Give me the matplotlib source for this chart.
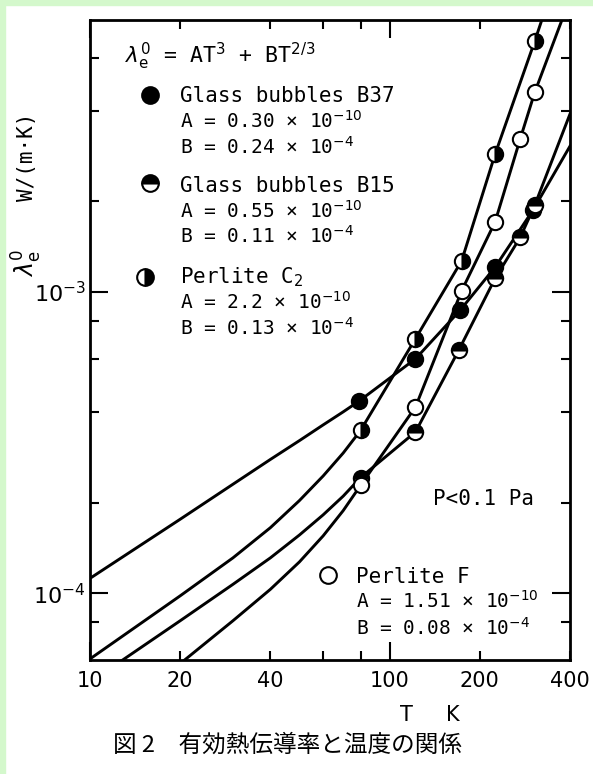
import matplotlib
matplotlib.use('Agg')
import matplotlib.pyplot as plt
from matplotlib.ticker import FixedLocator, FixedFormatter, NullFormatter
from matplotlib.patches import Rectangle

# ---- measured data points (T in K, lambda in W/(m K)) ----
b37_T = [79, 122, 172, 225, 301]
b37_lam = [4.34e-4, 6.0e-4, 8.7e-4, 1.21e-3, 1.87e-3]
b15_T = [80, 122, 170, 225, 273, 305]
b15_lam = [2.42e-4, 3.43e-4, 6.4e-4, 1.11e-3, 1.52e-3, 1.94e-3]
c2_T = [80, 122, 174, 225, 305]
c2_lam = [3.47e-4, 7.0e-4, 1.27e-3, 2.87e-3, 6.8e-3]
pf_T = [80, 122, 174, 225, 273, 305]
pf_lam = [2.28e-4, 4.15e-4, 1.01e-3, 1.71e-3, 3.23e-3, 4.6e-3]

# ---- drawn curves ----
b37_curve_T = [10, 20, 30, 40, 50, 60, 70, 79, 122, 172, 225, 301, 400]
b37_curve_lam = [1.12e-4, 1.76e-4, 2.30e-4, 2.78e-4, 3.21e-4, 3.62e-4, 4.0e-4,
                 4.34e-4, 6.0e-4, 8.7e-4, 1.21e-3, 1.87e-3, 3.05e-3]
b15_curve_T = [10, 20, 30, 40, 50, 60, 70, 80, 122, 170, 225, 273, 305, 400]
b15_curve_lam = [5.06e-5, 8.1e-5, 1.07e-4, 1.31e-4, 1.56e-4, 1.82e-4, 2.1e-4,
                 2.42e-4, 3.43e-4, 6.4e-4, 1.11e-3, 1.52e-3, 1.94e-3, 3.9e-3]
c2_curve_T = [10, 20, 30, 40, 50, 60, 70, 80, 122, 174, 225, 305, 330]
c2_curve_lam = [6.05e-5, 9.8e-5, 1.31e-4, 1.65e-4, 2.03e-4, 2.45e-4, 2.92e-4,
                3.47e-4, 7.0e-4, 1.27e-3, 2.87e-3, 6.8e-3, 8.6e-3]
pf_curve_T = [19, 30, 40, 50, 60, 70, 80, 122, 174, 225, 273, 305, 380]
pf_curve_lam = [5.6e-5, 8.1e-5, 1.03e-4, 1.27e-4, 1.55e-4, 1.88e-4, 2.28e-4,
                4.15e-4, 1.01e-3, 1.71e-3, 3.23e-3, 4.6e-3, 8.23e-3]

x_major = [10, 100]
x_major_labels = ['10', '100']
x_minor = [20, 40, 60, 80, 200, 400]
x_minor_labels = ['20', '40', '', '', '200', '400']
y_major = [1e-4, 1e-3]
y_major_labels = [r'$10^{-4}$', r'$10^{-3}$']
y_minor = [8e-5, 2e-4, 4e-4, 6e-4, 8e-4, 2e-3, 4e-3, 6e-3]

MONO = 'DejaVu Sans Mono'

fig = plt.figure(figsize=(5.93, 7.74), dpi=100)
fig.patch.set_facecolor('white')
green = '#D4F8CC'
fig.add_artist(Rectangle((0, 1 - 5 / 774), 1, 5 / 774, transform=fig.transFigure,
                         color=green, zorder=0))
fig.add_artist(Rectangle((0, 0), 5 / 593, 1, transform=fig.transFigure,
                         color=green, zorder=0))

ax = fig.add_axes([90 / 593, 114 / 774, 480 / 593, 640 / 774])
ax.set_xscale('log')
ax.set_yscale('log')
ax.set_xlim(10, 400)
ax.set_ylim(6e-5, 8e-3)

lw = 2.1
for cT, cl in [(b37_curve_T, b37_curve_lam), (b15_curve_T, b15_curve_lam),
               (c2_curve_T, c2_curve_lam), (pf_curve_T, pf_curve_lam)]:
    ax.plot(cT, cl, color='black', lw=lw, zorder=2)

ms = 11
mew = 1.5
ax.plot(b37_T, b37_lam, ls='none', marker='o', ms=ms, mfc='black', mec='black',
        mew=mew, zorder=3)
ax.plot(b15_T, b15_lam, ls='none', marker='o', ms=ms, mfc='black', mec='black',
        mew=mew, fillstyle='top', markerfacecoloralt='white', zorder=3)
ax.plot(c2_T, c2_lam, ls='none', marker='o', ms=ms, mfc='black', mec='black',
        mew=mew, fillstyle='right', markerfacecoloralt='white', zorder=3)
ax.plot(pf_T, pf_lam, ls='none', marker='o', ms=ms, mfc='white', mec='black',
        mew=mew, zorder=3)

# ticks
ax.xaxis.set_major_locator(FixedLocator(x_major))
ax.xaxis.set_major_formatter(FixedFormatter(x_major_labels))
ax.xaxis.set_minor_locator(FixedLocator(x_minor))
ax.xaxis.set_minor_formatter(FixedFormatter(x_minor_labels))
ax.yaxis.set_major_locator(FixedLocator(y_major))
ax.yaxis.set_major_formatter(FixedFormatter(y_major_labels))
ax.yaxis.set_minor_locator(FixedLocator(y_minor))
ax.yaxis.set_minor_formatter(NullFormatter())
ax.tick_params(which='both', direction='in', top=True, right=True, width=1.5)
ax.tick_params(which='major', length=13)
ax.tick_params(which='minor', length=6.5)
ax.tick_params(axis='x', which='both', labelsize=15, pad=8)
ax.tick_params(axis='y', which='both', labelsize=16, pad=3)
for s in ax.spines.values():
    s.set_linewidth(2.0)

# legend-like annotations
def tx(x, y, s, size=15):
    ax.text(x, y, s, transform=ax.transAxes, fontsize=size, family=MONO,
            va='baseline', ha='left')

def mk(x, y, **kw):
    ax.plot([x], [y], transform=ax.transAxes, marker='o', ms=12, mec='black',
            mew=mew, ls='none', clip_on=False, **kw)

tx(0.0729, 0.9323, r'$\lambda_{\mathrm{e}}^{0}$ = AT$^{3}$ + BT$^{2/3}$', size=15.5)

mk(0.125, 0.8828, mfc='black')
tx(0.1875, 0.8723, 'Glass bubbles B37')
tx(0.1875, 0.8308, r'A = 0.30 × 10$^{-10}$', size=14)
tx(0.1875, 0.7917, r'B = 0.24 × 10$^{-4}$', size=14)

mk(0.125, 0.7448, mfc='black', fillstyle='top', markerfacecoloralt='white')
tx(0.1875, 0.7317, 'Glass bubbles B15')
tx(0.1875, 0.6902, r'A = 0.55 × 10$^{-10}$', size=14)
tx(0.1875, 0.6511, r'B = 0.11 × 10$^{-4}$', size=14)

mk(0.1146, 0.5989, mfc='black', fillstyle='right', markerfacecoloralt='white')
tx(0.1875, 0.5886, r'Perlite C$_{2}$')
tx(0.1875, 0.5495, r'A = 2.2 × 10$^{-10}$', size=14)
tx(0.1875, 0.5078, r'B = 0.13 × 10$^{-4}$', size=14)

tx(0.7146, 0.2422, 'P<0.1 Pa')

mk(0.4958, 0.1328, mfc='white')
tx(0.5542, 0.1198, 'Perlite F')
tx(0.5542, 0.0808, r'A = 1.51 × 10$^{-10}$', size=14)
tx(0.5542, 0.0391, r'B = 0.08 × 10$^{-4}$', size=14)

# axis labels
ax.set_xlabel('T     K', fontsize=15)
ax.xaxis.set_label_coords(0.708, -0.07)
fig.text(27 / 593, (774 - 157) / 774, 'W/(m·K)', rotation=90, ha='center',
         va='center', fontsize=15, family=MONO)
fig.text(27 / 593, (774 - 263) / 774, r'$\lambda_{\mathrm{e}}^{0}$', rotation=90,
         ha='center', va='center', fontsize=17)

# caption
fig.text(113 / 593, 29 / 774, '図 2　有効熱伝導率と温度の関係', ha='left', va='center',
         fontsize=17, family=['Noto Sans CJK JP', 'DejaVu Sans'])

fig.savefig('out.png', dpi=100, facecolor=fig.get_facecolor())
